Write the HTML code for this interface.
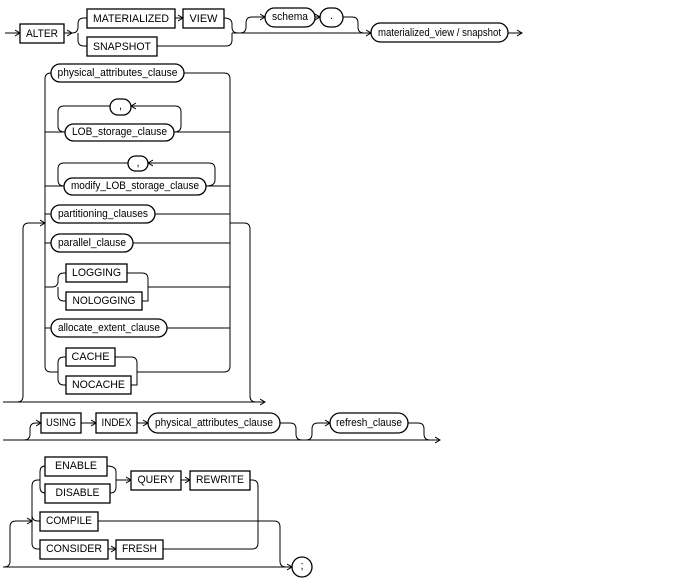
<!DOCTYPE html>
<html><head><meta charset="utf-8"><style>
html,body{margin:0;padding:0;background:#fff;}
svg{display:block;}
text{font-family:"Liberation Sans",Arial,sans-serif;font-size:11px;fill:#000;text-anchor:middle;dominant-baseline:central;}
.l{fill:none;stroke:#000;stroke-width:1;}
.b{fill:#fff;stroke:#000;stroke-width:1.3;}
</style></head><body>
<svg width="688" height="582" viewBox="0 0 688 582" xmlns="http://www.w3.org/2000/svg">
<defs><marker id="a" markerWidth="6" markerHeight="8" refX="5" refY="4" orient="auto" markerUnits="userSpaceOnUse"><path d="M0,1 L5,4 L0,7" fill="none" stroke="#000"/></marker></defs>

<!-- Row 1 -->
<path class="l" d="M5 33 L20 33" marker-end="url(#a)"/>
<rect class="b" x="20" y="24" width="44" height="19"/><text x="42" y="34" textLength="32" lengthAdjust="spacingAndGlyphs">ALTER</text>
<path class="l" d="M64 33 L72 33" marker-end="url(#a)"/>
<path class="l" d="M72 33 Q78 33 78 27 L78 24 Q78 18 84 18 L87 18 M78 33 Q78 33 78 39 L78 40 Q78 46 84 46 L87 46"/>
<rect class="b" x="87" y="9" width="88" height="19"/><text x="131" y="19" textLength="76" lengthAdjust="spacingAndGlyphs">MATERIALIZED</text>
<path class="l" d="M175 18 L183 18" marker-end="url(#a)"/>
<rect class="b" x="183" y="9" width="41" height="19"/><text x="203.5" y="19" textLength="28" lengthAdjust="spacingAndGlyphs">VIEW</text>
<rect class="b" x="87" y="37" width="70" height="19"/><text x="122" y="47" textLength="58" lengthAdjust="spacingAndGlyphs">SNAPSHOT</text>
<path class="l" d="M224 18 Q232 18 232 24 L232 27 Q232 33 238 33 M157 46 L226 46 Q232 46 232 40 L232 33"/>
<path class="l" d="M232 33 L371 33" marker-end="url(#a)"/>
<path class="l" d="M240 33 Q246 33 246 27 L246 23 Q246 17 252 17 L265 17" marker-end="url(#a)"/>
<rect class="b" x="265" y="8" width="50" height="19" rx="9.5"/><text x="290" y="17" textLength="36" lengthAdjust="spacingAndGlyphs">schema</text>
<path class="l" d="M315 17 L320 17" marker-end="url(#a)"/>
<rect class="b" x="320" y="8" width="23" height="19" rx="9.5"/><text x="331.5" y="16">.</text>
<path class="l" d="M343 17 L352 17 Q358 17 358 23 L358 27 Q358 33 364 33"/>
<rect class="b" x="371" y="23" width="137" height="19" rx="9.5"/><text x="439.5" y="33" textLength="123" lengthAdjust="spacingAndGlyphs">materialized_view / snapshot</text>
<path class="l" d="M508 33 L522 33" marker-end="url(#a)"/>

<!-- Big block -->
<path class="l" d="M51 73 Q45 73 45 79 L45 366 Q45 372 51 372 L58 372"/>
<path class="l" d="M184 73 L224 73 Q230 73 230 79 L230 366 Q230 372 224 372 L137 372"/>
<rect class="b" x="51" y="64" width="133" height="18" rx="9"/><text x="117.5" y="73" textLength="120" lengthAdjust="spacingAndGlyphs">physical_attributes_clause</text>

<path class="l" d="M45 132 L65 132 M174 132 L230 132"/>
<path class="l" d="M174 132 Q181 132 181 126 L181 112 Q181 106 175 106 L131 106" marker-end="url(#a)"/>
<path class="l" d="M110 106 L64 106 Q58 106 58 112 L58 126 Q58 132 65 132"/>
<rect class="b" x="110" y="99" width="21" height="16" rx="8"/><text x="120.5" y="106">,</text>
<rect class="b" x="65" y="124" width="109" height="17" rx="8.5"/><text x="119.5" y="132" textLength="95" lengthAdjust="spacingAndGlyphs">LOB_storage_clause</text>

<path class="l" d="M45 186 L64 186 M206 186 L230 186"/>
<path class="l" d="M206 186 Q215 186 215 180 L215 169 Q215 163 209 163 L148 163" marker-end="url(#a)"/>
<path class="l" d="M128 163 L64 163 Q58 163 58 169 L58 180 Q58 186 64 186"/>
<rect class="b" x="128" y="156" width="20" height="15" rx="7.5"/><text x="138" y="163">,</text>
<rect class="b" x="64" y="178" width="142" height="17" rx="8.5"/><text x="135" y="186" textLength="128" lengthAdjust="spacingAndGlyphs">modify_LOB_storage_clause</text>

<path class="l" d="M45 214 L51 214 M155 214 L230 214"/>
<rect class="b" x="51" y="205" width="104" height="18" rx="9"/><text x="103" y="214" textLength="90" lengthAdjust="spacingAndGlyphs">partitioning_clauses</text>

<path class="l" d="M45 243 L51 243 M133 243 L230 243"/>
<rect class="b" x="51" y="234" width="82" height="18" rx="9"/><text x="92" y="243" textLength="68" lengthAdjust="spacingAndGlyphs">parallel_clause</text>

<path class="l" d="M45 287 L52 287 Q58 287 58 281 L58 279 Q58 273 64 273 L66 273 M58 287 L58 295 Q58 301 64 301 L66 301"/>
<path class="l" d="M127 273 L142 273 Q148 273 148 279 L148 287 M142 301 L148 301 Q148 301 148 295 L148 287 L230 287"/>
<rect class="b" x="66" y="264" width="61" height="18"/><text x="96.5" y="273" textLength="49" lengthAdjust="spacingAndGlyphs">LOGGING</text>
<rect class="b" x="66" y="292" width="76" height="18"/><text x="104" y="301" textLength="63" lengthAdjust="spacingAndGlyphs">NOLOGGING</text>

<path class="l" d="M45 328 L51 328 M167 328 L230 328"/>
<rect class="b" x="51" y="319" width="116" height="18" rx="9"/><text x="109" y="328" textLength="102" lengthAdjust="spacingAndGlyphs">allocate_extent_clause</text>

<path class="l" d="M58 372 Q58 372 58 366 L58 363 Q58 357 64 357 L66 357 M58 372 L58 379 Q58 385 64 385 L66 385"/>
<path class="l" d="M115 357 L131 357 Q137 357 137 363 L137 372 M131 385 L137 385 L137 372"/>
<rect class="b" x="66" y="348" width="49" height="18"/><text x="90.5" y="357" textLength="38" lengthAdjust="spacingAndGlyphs">CACHE</text>
<rect class="b" x="66" y="376" width="65" height="18"/><text x="98.5" y="385" textLength="53" lengthAdjust="spacingAndGlyphs">NOCACHE</text>

<!-- outer loop -->
<path class="l" d="M23 396 L23 229 Q23 223 29 223 L45 223" marker-end="url(#a)"/>
<path class="l" d="M230 223 L244 223 Q250 223 250 229 L250 396 Q250 402 256 402 L265 402" marker-end="url(#a)"/>
<path class="l" d="M3 402 L256 402 M17 402 Q23 402 23 396"/>

<!-- USING row -->
<path class="l" d="M3 440 L440 440" marker-end="url(#a)"/>
<path class="l" d="M24 440 Q30 440 30 434 L30 429 Q30 423 36 423 L41 423" marker-end="url(#a)"/>
<rect class="b" x="41" y="413" width="40" height="20"/><text x="61" y="423" textLength="30" lengthAdjust="spacingAndGlyphs">USING</text>
<path class="l" d="M81 423 L96 423" marker-end="url(#a)"/>
<rect class="b" x="96" y="413" width="41" height="20"/><text x="116.5" y="423" textLength="30" lengthAdjust="spacingAndGlyphs">INDEX</text>
<path class="l" d="M137 423 L148 423" marker-end="url(#a)"/>
<rect class="b" x="148" y="413" width="132" height="20" rx="10"/><text x="214" y="423" textLength="118" lengthAdjust="spacingAndGlyphs">physical_attributes_clause</text>
<path class="l" d="M280 423 L290 423 Q296 423 296 429 L296 434 Q296 440 302 440"/>
<path class="l" d="M306 440 Q312 440 312 434 L312 429 Q312 423 318 423 L330 423" marker-end="url(#a)"/>
<rect class="b" x="330" y="413" width="78" height="20" rx="10"/><text x="369" y="423" textLength="66" lengthAdjust="spacingAndGlyphs">refresh_clause</text>
<path class="l" d="M408 423 L418 423 Q424 423 424 429 L424 434 Q424 440 430 440"/>

<!-- bottom group -->
<path class="l" d="M32 543 L32 486 Q32 480 38 480 L40 480 Q40 480 40 472 Q40 466 45 466 M40 480 L40 487 Q40 493 45 493"/>
<path class="l" d="M32 515 Q32 521 38 521 L40 521 M32 543 Q32 549 38 549 L40 549"/>
<rect class="b" x="45" y="457" width="62" height="19"/><text x="76" y="466" textLength="42" lengthAdjust="spacingAndGlyphs">ENABLE</text>
<rect class="b" x="45" y="484" width="65" height="19"/><text x="77.5" y="493" textLength="44" lengthAdjust="spacingAndGlyphs">DISABLE</text>
<path class="l" d="M107 466 Q116 466 116 472 L116 480 M110 493 Q116 493 116 487 L116 480 L131 480" marker-end="url(#a)"/>
<rect class="b" x="131" y="471" width="50" height="19"/><text x="156" y="480" textLength="37" lengthAdjust="spacingAndGlyphs">QUERY</text>
<path class="l" d="M181 480 L190 480" marker-end="url(#a)"/>
<rect class="b" x="190" y="471" width="60" height="19"/><text x="220" y="480" textLength="48" lengthAdjust="spacingAndGlyphs">REWRITE</text>
<path class="l" d="M250 480 L252 480 Q258 480 258 486 L258 543 Q258 549 252 549 L163 549"/>
<rect class="b" x="40" y="512" width="58" height="19"/><text x="69" y="521" textLength="46" lengthAdjust="spacingAndGlyphs">COMPILE</text>
<path class="l" d="M98 521 L274 521 Q280 521 280 527 L280 561 Q280 567 286 567 L292 567" marker-end="url(#a)"/>
<rect class="b" x="40" y="540" width="68" height="19"/><text x="74" y="549" textLength="56" lengthAdjust="spacingAndGlyphs">CONSIDER</text>
<path class="l" d="M108 549 L116 549" marker-end="url(#a)"/>
<rect class="b" x="116" y="540" width="47" height="19"/><text x="139.5" y="549" textLength="35" lengthAdjust="spacingAndGlyphs">FRESH</text>
<path class="l" d="M3 567 L286 567 M4 567 Q10 567 10 561 L10 527 Q10 521 16 521 L32 521" marker-end="url(#a)"/>
<rect class="b" x="292" y="557" width="20" height="20" rx="10"/><text x="302" y="566">;</text>
</svg>
</body></html>
